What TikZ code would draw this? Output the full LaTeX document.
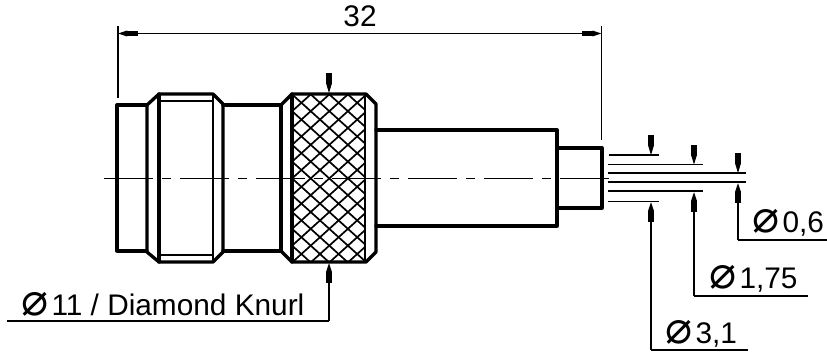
\documentclass[tikz,border=0pt]{standalone}
\usepackage{fontspec}
\setmainfont{Liberation Sans}
\newfontfamily\phifont{DejaVu Sans}
\usetikzlibrary{arrows.meta}
\newcommand{\dia}{\makebox[27.5pt][l]{\hspace{-3pt}{\phifont\fontsize{45}{45}\selectfont ⌀}}}
\tikzset{
  outline/.style={line width=3.3pt,line join=round,line cap=round},
  thinline/.style={line width=1.5pt},
  dimline/.style={line width=1.6pt},
  knurl/.style={line width=1.7pt},
  center line/.style={line width=1.5pt,dash pattern=on 49pt off 9pt on 9pt off 9pt},
  label/.style={anchor=base west,inner sep=0pt,outer sep=0pt,font=\fontsize{29.8}{31}\selectfont},
  tip/.style={-{Rectangle[length=11pt,width=5.5pt]Triangle[length=9pt,width=5.5pt]}},
  tiptail/.style={line width=1.6pt,-{Rectangle[length=11pt,width=5.5pt]Triangle[length=9pt,width=5.5pt]}},
  both tips/.style={line width=1.6pt,{Triangle[length=9pt,width=5.5pt]Rectangle[length=11pt,width=5.5pt]}-{Rectangle[length=11pt,width=5.5pt]Triangle[length=9pt,width=5.5pt]}}
}
\begin{document}
\begin{tikzpicture}[x=1pt,y=-1pt]
\useasboundingbox (0,0) rectangle (827,353);
% knurl
\begin{scope}
\clip (292,94) rectangle (365,262);
\foreach \k in {-10,...,10}{
  \draw[knurl] ({329.3+18.6*\k-49.8},83) -- ({329.3+18.6*\k+160.5},273);
  \draw[knurl] ({329.3+18.6*\k+49.8},83) -- ({329.3+18.6*\k-160.5},273);
}
\end{scope}
% body outline
\draw[outline] (147,105) -- (117,105) -- (117,251) -- (147,251);
\draw[outline] (147,251) -- (147,105) -- (159,94) -- (213,94) -- (223,104) -- (223,252) -- (213,262) -- (159,262) -- (147,252);
\draw[outline] (159,94) -- (159,262);
\draw[line width=2.2pt] (213,94) -- (213,262);
\draw[thinline] (159,101) -- (213,101);
\draw[thinline] (159,255) -- (213,255);
\draw[outline] (223,105) -- (281,105) -- (281,251) -- (223,251);
\draw[outline] (281,105) -- (292,94) -- (366,94) -- (376,104) -- (376,252) -- (366,262) -- (292,262) -- (281,251);
\draw[outline] (292,94) -- (292,262);
\draw[line width=2.8pt] (365,94) -- (365,262);
\draw[outline] (376,130) -- (557,130) -- (557,226) -- (376,226);
\draw[outline] (557,148) -- (602,148) -- (602,208) -- (557,208);
% centre line
\coordinate (cl1) at (104,178.5); \coordinate (cl2) at (609,178.5);
\draw[center line] (cl1) -- (cl2);
% overall dimension
\coordinate (e1a) at (118,26); \coordinate (e1b) at (118,98);
\coordinate (e2a) at (601.5,26); \coordinate (e2b) at (601.5,140);
\draw[dimline] (e1a) -- (e1b);
\draw[dimline] (e2a) -- (e2b);
\draw[both tips] (e1a |- 0,33.5) -- (e2a |- 0,33.5);
\node[label,anchor=base] (dim32) at (360,27) {32};
% wire lines
\foreach \n/\y/\xa/\xb in {a/155/609/659,b/164.5/608/703,c/173/608/746,d/182/608/746,e/191/608/703,f/201.5/608/659}{
  \coordinate (w\n1) at (\xa,\y); \coordinate (w\n2) at (\xb,\y);
  \draw[thinline] (w\n1) -- (w\n2);
}
% top arrows
\coordinate (t1) at (651,135); \coordinate (t2) at (694,145); \coordinate (t3) at (738,154);
\draw[tip,line width=0pt] (t1) -- (651,155);
\draw[tip,line width=0pt] (t2) -- (694,164.5);
\draw[tip,line width=0pt] (t3) -- (738,173);
% leaders
\coordinate (l1a) at (651,350); \coordinate (l1b) at (748,350);
\coordinate (l2a) at (694,296); \coordinate (l2b) at (808,296);
\coordinate (l3a) at (738,240); \coordinate (l3b) at (827,240);
\draw[dimline] (l1b) -- (l1a);
\draw[tiptail] (l1a) -- (651,202);
\draw[dimline] (l2b) -- (l2a);
\draw[tiptail] (l2a) -- (694,192);
\draw[dimline] (l3b) -- (l3a);
\draw[tiptail] (l3a) -- (738,183);
% knurl leader
\coordinate (k1) at (329,74);
\coordinate (k2) at (329,321); \coordinate (k3) at (7,321);
\draw[tip,line width=0pt] (k1) -- (329,93);
\draw[dimline] (k3) -- (k2);
\draw[tiptail] (k2) -- (329,263);
% labels
\node[label] (d11) at (24,315) {\dia 11 / Diamond Knurl};
\node[label] (d06) at (755,232) {\dia 0,6};
\node[label] (d175) at (712,288) {\dia 1,75};
\node[label] (d31) at (668,343) {\dia 3,1};
\end{tikzpicture}
\end{document}
